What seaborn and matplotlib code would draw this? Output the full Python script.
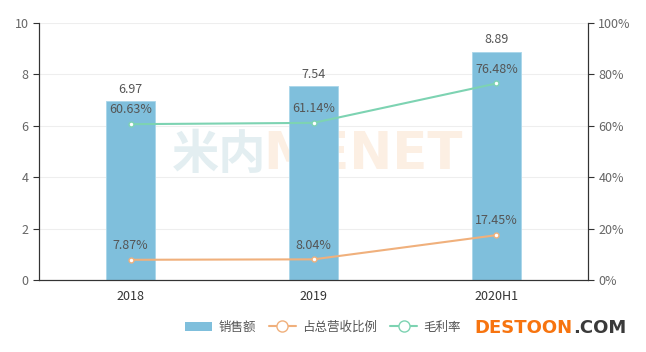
import matplotlib
matplotlib.use('Agg')
import matplotlib.pyplot as plt
import seaborn as sns
import pandas as pd
from matplotlib.lines import Line2D
from matplotlib.patches import Patch

years = ['2018', '2019', '2020H1']
sales = [6.97, 7.54, 8.89]
share = [7.87, 8.04, 17.45]
margin = [60.63, 61.14, 76.48]

sns.set_style('white')
plt.rcParams['font.family'] = ['Noto Sans CJK SC', 'DejaVu Sans']

bar_c = '#7fbfdc'
org_c = '#f0b07c'
grn_c = '#7dd3b2'
txt_c = '#555555'

df = pd.DataFrame({'year': years, 'sales': sales})

fig = plt.figure(figsize=(6.46, 3.52), dpi=100)

# watermark (behind the plot)
fig.text(0.266, 0.56, '米内', fontsize=34, color='#e3eef1', ha='left', va='center',
         fontweight='black', zorder=-5)
fig.text(0.408, 0.56, 'MENET', fontsize=37, color='#fcefe3', ha='left', va='center',
         fontweight='bold', family=['DejaVu Sans'], zorder=-5)

ax = fig.add_axes([0.0604, 0.2045, 0.8498, 0.7302])
ax.patch.set_alpha(0)
sns.barplot(data=df, x='year', y='sales', color=bar_c, width=0.27, saturation=1,
            edgecolor='#a9d6ea', linewidth=0.6, ax=ax)
ax.set_ylim(0, 10)
ax.set_xlim(-0.5, 2.5)
ax.set_yticks([0, 2, 4, 6, 8, 10])
ax.yaxis.grid(True, color='#eeeeee', lw=0.8)
ax.set_axisbelow(True)
ax.set_xlabel('')
ax.set_ylabel('')
for i, v in enumerate(sales):
    ax.text(i, v + 0.2, f'{v:.2f}', ha='center', va='bottom', fontsize=9, color=txt_c)

ax2 = ax.twinx()
x = list(range(len(years)))
ax2.plot(x, share, color=org_c, lw=1.5, marker='o', ms=3.5, mfc='white', mec=org_c, zorder=3)
ax2.plot(x, margin, color=grn_c, lw=1.5, marker='o', ms=3.5, mfc='white', mec=grn_c, zorder=3)
ax2.set_ylim(0, 100)
ax2.set_yticks([0, 20, 40, 60, 80, 100])
ax2.set_yticklabels([f'{t}%' for t in [0, 20, 40, 60, 80, 100]])
for i in x:
    ax2.text(i, share[i] + 3, f'{share[i]:.2f}%', ha='center', va='bottom', fontsize=9, color=txt_c)
    ax2.text(i, margin[i] + 3, f'{margin[i]:.2f}%', ha='center', va='bottom', fontsize=9, color=txt_c)

for a in (ax, ax2):
    a.spines['top'].set_visible(False)
    for s in ['left', 'right', 'bottom']:
        a.spines[s].set_color('#333333')
        a.spines[s].set_linewidth(0.8)
    a.tick_params(axis='both', colors='#333333', labelcolor='#666666', labelsize=9,
                  length=4, width=0.8, direction='out')
ax.tick_params(axis='x', labelcolor='#333333')

handles = [
    Patch(facecolor=bar_c, edgecolor='none'),
    Line2D([0], [0], color=org_c, lw=1.5, marker='o', ms=8, mfc='white', mec=org_c),
    Line2D([0], [0], color=grn_c, lw=1.5, marker='o', ms=8, mfc='white', mec=grn_c),
]
fig.legend(handles, ['销售额', '占总营收比例', '毛利率'], loc='center', bbox_to_anchor=(0.5, 0.07),
           ncol=3, frameon=False, fontsize=9, handlelength=2.2, columnspacing=1.0,
           handletextpad=0.5, labelcolor='#555555')

fig.text(0.735, 0.068, 'DESTOON', fontsize=13, color='#f7740f', ha='left', va='center',
         fontweight='bold', family=['DejaVu Sans'])
fig.text(0.887, 0.068, '.COM', fontsize=13, color='#3a3a3a', ha='left', va='center',
         fontweight='bold', family=['DejaVu Sans'])

fig.savefig('out.png', dpi=100)
